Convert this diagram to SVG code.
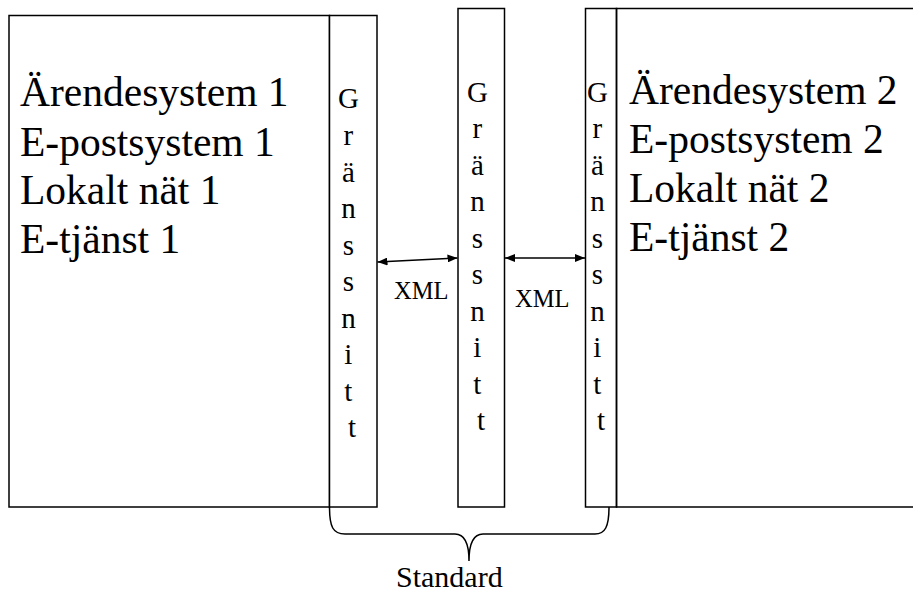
<svg xmlns="http://www.w3.org/2000/svg" width="913" height="592" viewBox="0 0 913 592">
  <style>
    text { font-family: "Liberation Serif", "Times New Roman", serif; fill: #000; }
    .box { fill: #fff; stroke: #000; stroke-width: 1.5; }
    .big { font-size: 41.5px; }
    .vert { font-size: 29px; text-anchor: middle; }
    .lbl { font-size: 24.5px; }
    .conn { fill: none; stroke: #000; stroke-width: 1.5; }
  </style>
  <defs>
    <marker id="arrowhead" viewBox="0 0 10 8" refX="10" refY="4" markerWidth="10" markerHeight="8" markerUnits="userSpaceOnUse" orient="auto-start-reverse">
      <path d="M0,0 L10,4 L0,8 Z" fill="#000"/>
    </marker>
  </defs>

  <rect width="913" height="592" fill="#fff"/>

  <!-- System 1 -->
  <g id="system1">
    <rect class="box" x="9" y="15.5" width="320.5" height="491.5"/>
    <text class="big" x="20" y="106">Ärendesystem 1</text>
    <text class="big" x="20" y="156">E-postsystem 1</text>
    <text class="big" x="20" y="204">Lokalt nät 1</text>
    <text class="big" x="20" y="253">E-tjänst 1</text>
  </g>

  <!-- Interface of system 1 -->
  <g id="interface1">
    <rect class="box" x="329.5" y="15.5" width="47.5" height="491.5"/>
    <text class="vert">
      <tspan x="352" y="108">G</tspan>
      <tspan x="352" y="145">r</tspan>
      <tspan x="352" y="182">ä</tspan>
      <tspan x="352" y="218">n</tspan>
      <tspan x="352" y="255">s</tspan>
      <tspan x="352" y="291">s</tspan>
      <tspan x="352" y="328">n</tspan>
      <tspan x="352" y="364">i</tspan>
      <tspan x="352" y="401">t</tspan>
      <tspan x="352" y="437">t</tspan>
    </text>
  </g>

  <!-- Shared interface -->
  <g id="interface-mid">
    <rect class="box" x="458" y="8.5" width="46.5" height="498.5"/>
    <text class="vert">
      <tspan x="481" y="102">G</tspan>
      <tspan x="481" y="138">r</tspan>
      <tspan x="481" y="175">ä</tspan>
      <tspan x="481" y="211">n</tspan>
      <tspan x="481" y="248">s</tspan>
      <tspan x="481" y="284">s</tspan>
      <tspan x="481" y="321">n</tspan>
      <tspan x="481" y="357">i</tspan>
      <tspan x="481" y="394">t</tspan>
      <tspan x="481" y="430">t</tspan>
    </text>
  </g>

  <!-- Interface of system 2 -->
  <g id="interface2">
    <rect class="box" x="585.5" y="8.5" width="31" height="498.5"/>
    <text class="vert">
      <tspan x="601" y="102">G</tspan>
      <tspan x="601" y="138">r</tspan>
      <tspan x="601" y="175">ä</tspan>
      <tspan x="601" y="211">n</tspan>
      <tspan x="601" y="248">s</tspan>
      <tspan x="601" y="284">s</tspan>
      <tspan x="601" y="321">n</tspan>
      <tspan x="601" y="357">i</tspan>
      <tspan x="601" y="394">t</tspan>
      <tspan x="601" y="430">t</tspan>
    </text>
  </g>

  <!-- System 2 (open to the right) -->
  <g id="system2">
    <path class="conn" d="M913,8.5 L616.5,8.5 L616.5,507 L913,507"/>
    <text class="big" x="629" y="104">Ärendesystem 2</text>
    <text class="big" x="629" y="153">E-postsystem 2</text>
    <text class="big" x="629" y="202">Lokalt nät 2</text>
    <text class="big" x="629" y="251">E-tjänst 2</text>
  </g>

  <!-- XML exchange arrows and the standard brace -->
  <g id="connectors">
    <line class="conn" x1="377.5" y1="262" x2="457.5" y2="258" marker-start="url(#arrowhead)" marker-end="url(#arrowhead)"/>
    <line class="conn" x1="505" y1="258" x2="585" y2="258" marker-start="url(#arrowhead)" marker-end="url(#arrowhead)"/>
    <path class="conn" d="M329.5,507 C329.5,527 333,534 345,534 L455,534 C464,534 469,543 469,561 C469,543 474,534 483,534 L595,534 C605,534 609,527 609,507"/>
  </g>

  <g id="labels">
    <text class="lbl" x="394" y="299">XML</text>
    <text class="lbl" x="515" y="307">XML</text>
    <text x="396" y="587" style="font-size:30px">Standard</text>
  </g>
</svg>
